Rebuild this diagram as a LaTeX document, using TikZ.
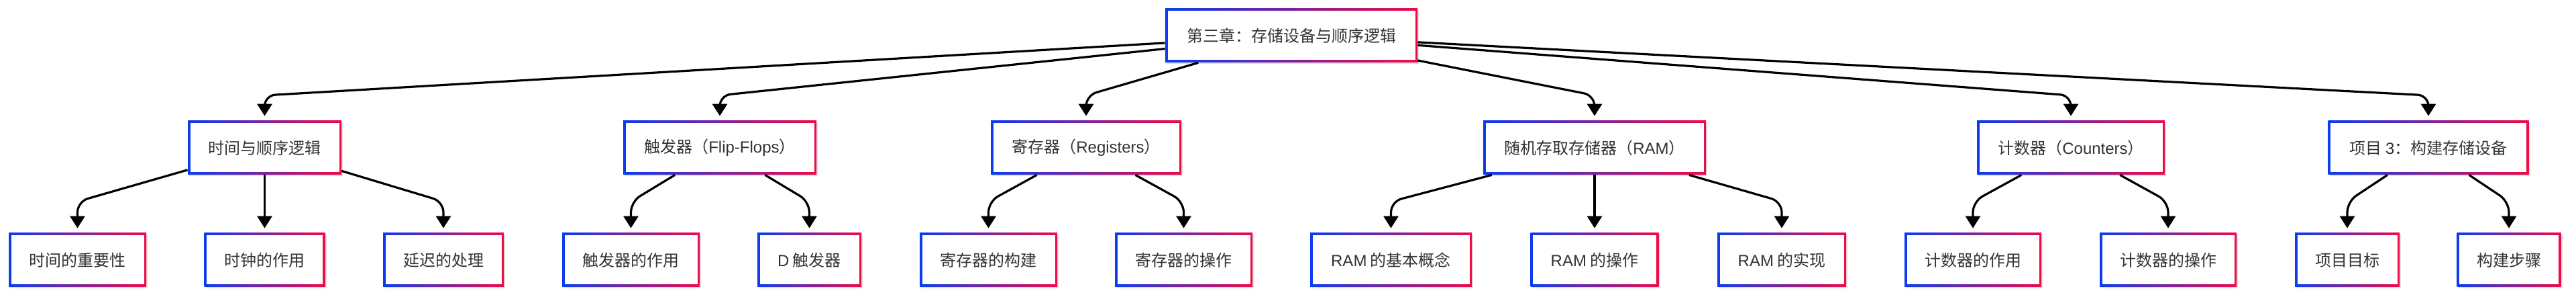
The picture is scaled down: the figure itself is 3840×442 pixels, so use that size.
\documentclass[tikz,border=0pt]{standalone}
\usepackage{fontspec}
\setmainfont{Noto Sans CJK SC}
\newfontfamily\lat{Liberation Sans}
\usetikzlibrary{arrows.meta,shadows}
\definecolor{gblue}{RGB}{10,60,240}
\definecolor{gred}{RGB}{240,10,70}
\definecolor{txt}{RGB}{51,51,51}
\begin{document}
\begin{tikzpicture}[x=0.5pt,y=-0.5pt,
  box/.style={minimum height=40pt, minimum width=#1*0.5pt, inner sep=0pt,
    text=txt, font=\fontsize{12pt}{14pt}\selectfont, fill=white,
    drop shadow={shadow xshift=1pt,shadow yshift=-1pt,opacity=0.12,fill=black},
    path picture={
      \fill[left color=gblue,right color=gred] (path picture bounding box.south west) rectangle (path picture bounding box.north east);
      \fill[white] ([shift={(1.75pt,1.75pt)}]path picture bounding box.south west) rectangle ([shift={(-1.75pt,-1.75pt)}]path picture bounding box.north east);
    }},
  edge/.style={line width=1.6pt, rounded corners=8pt,
    -{Triangle[length=9pt,width=11pt]}, shorten >=3.5pt}
]
\useasboundingbox (0,0) rectangle (3840,442);

% root
\node[box=376] (root) at (1925,53) {第三章：存储设备与顺序逻辑};

% level 2
\node[box=229] (a) at (394.5,220) {时间与顺序逻辑};
\node[box=288] (b) at (1073,220) {触发器（{\lat Flip-Flops}）};
\node[box=284] (c) at (1619,220) {寄存器（{\lat Registers}）};
\node[box=332] (d) at (2377,220) {随机存取存储器（{\lat RAM}）};
\node[box=280] (e) at (3087,220) {计数器（{\lat Counters}）};
\node[box=299] (f) at (3620,220) {项目 {\lat 3}：构建存储设备};

% level 3
\node[box=205] (a1) at (115.5,387) {时间的重要性};
\node[box=180] (a2) at (394.5,387) {时钟的作用};
\node[box=180] (a3) at (661,387) {延迟的处理};
\node[box=205] (b1) at (940.5,387) {触发器的作用};
\node[box=155] (b2) at (1206.5,387) {{\lat D} 触发器};
\node[box=205] (c1) at (1473.5,387) {寄存器的构建};
\node[box=205] (c2) at (1764.5,387) {寄存器的操作};
\node[box=241] (d1) at (2073.5,387) {{\lat RAM} 的基本概念};
\node[box=191] (d2) at (2377,387) {{\lat RAM} 的操作};
\node[box=192] (d3) at (2656,387) {{\lat RAM} 的实现};
\node[box=204] (e1) at (2941,387) {计数器的作用};
\node[box=204] (e2) at (3232,387) {计数器的操作};
\node[box=156] (f1) at (3499,387) {项目目标};
\node[box=155] (f2) at (3740,387) {构建步骤};

% root edges
\draw[edge] (root) -- (394.5,142) -- (a.north);
\draw[edge] (root) -- (1073,142) -- (b.north);
\draw[edge] (root) -- (1619,142) -- (c.north);
\draw[edge] (root) -- (2377,142) -- (d.north);
\draw[edge] (root) -- (3087,142) -- (e.north);
\draw[edge] (root) -- (3620,142) -- (f.north);

% level 2 -> level 3
\draw[edge] (a) -- (115.5,300) -- (a1.north);
\draw[edge] (a) -- (a2);
\draw[edge] (a) -- (661,300) -- (a3.north);
\draw[edge] (b) -- (940.5,300) -- (b1.north);
\draw[edge] (b) -- (1206.5,300) -- (b2.north);
\draw[edge] (c) -- (1473.5,300) -- (c1.north);
\draw[edge] (c) -- (1764.5,300) -- (c2.north);
\draw[edge] (d) -- (2073.5,300) -- (d1.north);
\draw[edge] (d) -- (d2);
\draw[edge] (d) -- (2656,300) -- (d3.north);
\draw[edge] (e) -- (2941,300) -- (e1.north);
\draw[edge] (e) -- (3232,300) -- (e2.north);
\draw[edge] (f) -- (3499,300) -- (f1.north);
\draw[edge] (f) -- (3740,300) -- (f2.north);
\end{tikzpicture}
\end{document}
